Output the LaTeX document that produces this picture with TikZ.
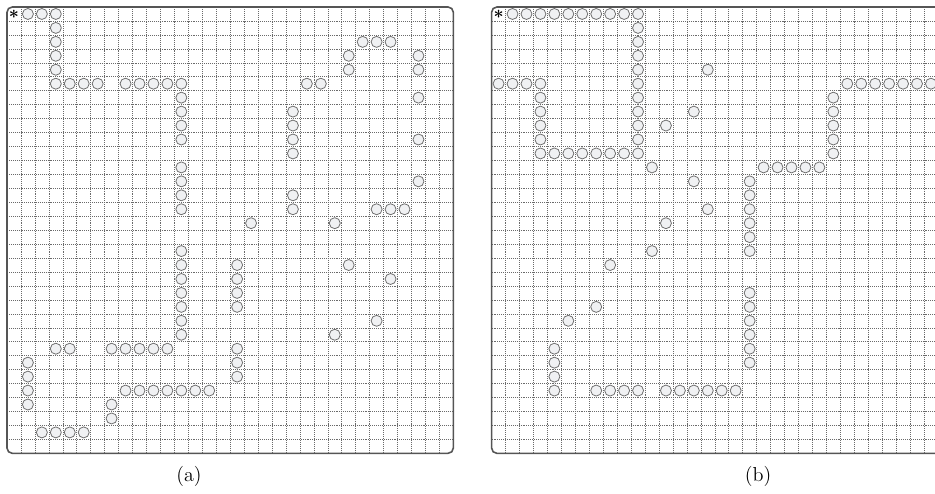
\documentclass[tikz,border=0pt]{standalone}
\usepackage{amsmath,amssymb}
\definecolor{ink}{HTML}{555555}
\definecolor{ink2}{HTML}{6E6E6E}
\definecolor{gridc}{HTML}{6A6A6A}
\definecolor{cellfill}{HTML}{F0F1F3}

\begin{document}
\begin{tikzpicture}[x=0.02cm, y=-0.02cm,
  grd/.style={draw=gridc, line width=0.3pt, dash pattern=on 0.55pt off 0.55pt},
  frm/.style={draw=ink, rounded corners=3pt, line width=0.9pt},
  cel/.style={circle, draw=ink2, fill=cellfill, line width=0.45pt, minimum size=0.22cm, inner sep=0pt},
  strt/.style={inner sep=0pt, font=\normalsize, text=black},
  lbl/.style={font=\fontsize{11.5}{13}\selectfont, text=black}]
\useasboundingbox (0,0) rectangle (935,493);
\clip (0,0) rectangle (935,493);

% panel (a)
\begin{scope}[shift={(0.14cm,-0.14cm)}, x=0.279cm, y=-0.279cm]
  \foreach \i in {1,...,31} {
    \draw[grd] (\i,0) -- (\i,32);
    \draw[grd] (0,\i) -- (32,\i);
  }
  \draw[frm] (0,0) rectangle (32,32);
  \node[strt] (a-start) at (0.5,0.5) {$\boldsymbol{\ast}$};
  \foreach \c/\r in {1/0,2/0,3/0, 3/1,3/2,3/3,3/4,
      3/5,4/5,5/5,6/5, 8/5,9/5,10/5,11/5,12/5, 21/5,22/5,
      12/6,12/7,12/8,12/9, 12/11,12/12,12/13,12/14,
      12/17,12/18,12/19,12/20,12/21,12/22,12/23,
      25/2,26/2,27/2, 24/3,24/4, 29/3,29/4, 29/6,29/9,29/12,
      20/7,20/8,20/9,20/10, 20/13,20/14,
      26/14,27/14,28/14, 17/15,23/15,
      16/18,16/19,16/20,16/21, 16/24,16/25,16/26,
      24/18,27/19,26/22,23/23,
      3/24,4/24, 7/24,8/24,9/24,10/24,11/24,
      1/25,1/26,1/27,1/28,
      8/27,9/27,10/27,11/27,12/27,13/27,14/27,
      7/28,7/29, 2/30,3/30,4/30,5/30}
    \node[cel] (a-\c-\r) at (\c+0.5,\r+0.5) {};
\end{scope}

% panel (b), cut off at the right edge
\begin{scope}[shift={(9.834cm,-0.14cm)}, x=0.279cm, y=-0.279cm]
  \foreach \i in {1,...,37} \draw[grd] (\i,0) -- (\i,32);
  \foreach \i in {1,...,31} \draw[grd] (0,\i) -- (38,\i);
  \draw[frm] (0,0) rectangle (38,32);
  \node[strt] (b-start) at (0.5,0.5) {$\boldsymbol{\ast}$};
  \foreach \c/\r in {1/0,2/0,3/0,4/0,5/0,6/0,7/0,8/0,9/0,10/0,
      10/1,10/2,10/3,10/4,10/5,10/6,10/7,10/8,10/9,
      3/10,4/10,5/10,6/10,7/10,8/10,9/10,10/10,
      0/5,1/5,2/5,3/5, 3/6,3/7,3/8,3/9,
      15/4,14/7,12/8,
      25/5,26/5,27/5,28/5,29/5,30/5,31/5,
      24/6,24/7,24/8,24/9,24/10,
      11/11, 19/11,20/11,21/11,22/11,23/11,
      14/12,15/14,12/15,11/17,8/18,7/21,5/22,
      18/12,18/13,18/14,18/15,18/16,18/17,
      18/20,18/21,18/22,18/23,18/24,18/25,
      4/24,4/25,4/26,4/27,
      7/27,8/27,9/27,10/27, 12/27,13/27,14/27,15/27,16/27,17/27}
    \node[cel] (b-\c-\r) at (\c+0.5,\r+0.5) {};
\end{scope}

% captions
\node[lbl] (cap-a) at (189,476) {(a)};
\node[lbl] (cap-b) at (758,476) {(b)};
\end{tikzpicture}
\end{document}
